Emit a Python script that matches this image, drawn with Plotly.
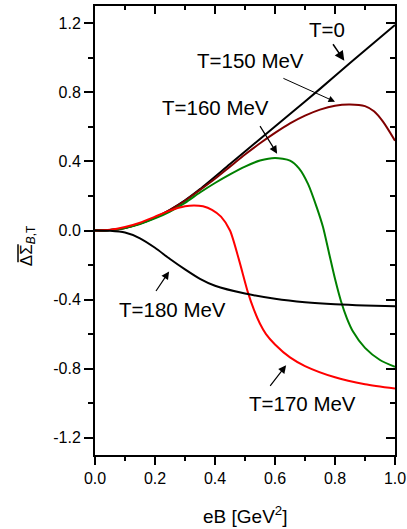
import plotly.graph_objects as go

# ---- data ----
x_t0 = [0, 0.05, 0.1, 0.15, 0.2, 0.25, 0.3, 0.35, 0.45, 0.55, 0.65, 0.75, 0.85, 1.0]
y_t0 = [0, 0.003, 0.015, 0.04, 0.075, 0.12, 0.175, 0.24, 0.385, 0.53, 0.675, 0.82, 0.97, 1.19]

x_t150 = [0, 0.05, 0.1, 0.15, 0.2, 0.25, 0.3, 0.35, 0.4, 0.45, 0.5, 0.55, 0.6, 0.65, 0.7, 0.75, 0.8, 0.85, 0.9, 0.93, 0.96, 1.0]
y_t150 = [0, 0.003, 0.015, 0.04, 0.075, 0.12, 0.172, 0.235, 0.3, 0.37, 0.44, 0.505, 0.565, 0.62, 0.665, 0.7, 0.723, 0.73, 0.72, 0.69, 0.63, 0.52]

x_t160 = [0, 0.05, 0.1, 0.15, 0.2, 0.25, 0.3, 0.35, 0.4, 0.45, 0.5, 0.55, 0.6, 0.65, 0.68, 0.71, 0.74, 0.76, 0.78, 0.8, 0.82, 0.84, 0.86, 0.9, 0.95, 1.0]
y_t160 = [0, 0.003, 0.015, 0.038, 0.07, 0.11, 0.16, 0.22, 0.275, 0.325, 0.37, 0.405, 0.42, 0.405, 0.36, 0.27, 0.13, 0.02, -0.13, -0.28, -0.41, -0.51, -0.585, -0.68, -0.75, -0.79]

x_t170 = [0, 0.05, 0.1, 0.15, 0.2, 0.25, 0.3, 0.33, 0.36, 0.39, 0.42, 0.45, 0.48, 0.51, 0.53, 0.55, 0.57, 0.6, 0.65, 0.7, 0.8, 0.9, 1.0]
y_t170 = [0, 0.004, 0.02, 0.045, 0.08, 0.115, 0.14, 0.145, 0.14, 0.12, 0.08, 0.0, -0.17, -0.36, -0.46, -0.54, -0.6, -0.66, -0.735, -0.785, -0.85, -0.89, -0.915]

x_t180 = [0, 0.05, 0.1, 0.15, 0.2, 0.25, 0.3, 0.35, 0.4, 0.5, 0.6, 0.7, 0.8, 0.9, 1.0]
y_t180 = [0, -0.002, -0.012, -0.045, -0.1, -0.165, -0.225, -0.28, -0.32, -0.365, -0.395, -0.415, -0.427, -0.434, -0.438]

x_tickvals = [0.0, 0.2, 0.4, 0.6, 0.8, 1.0]
x_ticktext = ["0.0", "0.2", "0.4", "0.6", "0.8", "1.0"]
y_tickvals = [-1.2, -0.8, -0.4, 0.0, 0.4, 0.8, 1.2]
y_ticktext = ["-1.2", "-0.8", "-0.4", "0.0", "0.4", "0.8", "1.2"]

series = [
    (x_t0, y_t0, "#000000"),
    (x_t150, y_t150, "#800000"),
    (x_t160, y_t160, "#008000"),
    (x_t170, y_t170, "#ff0000"),
    (x_t180, y_t180, "#000000"),
]

FONT = "Liberation Sans, Arial, sans-serif"

fig = go.Figure()
for xs, ys, c in series:
    fig.add_trace(go.Scatter(x=xs, y=ys, mode="lines",
                             line=dict(color=c, width=2, shape="spline", smoothing=0.7),
                             showlegend=False, hoverinfo="skip"))
fig.add_trace(go.Scatter(x=[None], y=[None], xaxis="x2", yaxis="y2", showlegend=False))

common = dict(showgrid=False, zeroline=False, tickcolor="black", tickwidth=1.5, automargin=False)

fig.update_layout(
    width=407, height=529, autosize=False,
    margin=dict(l=95, r=12, t=6, b=74, pad=0, autoexpand=False),
    paper_bgcolor="white", plot_bgcolor="white",
    showlegend=False,
    font=dict(family=FONT, color="black", size=16),
    xaxis=dict(range=[0, 1], tickvals=x_tickvals, ticktext=x_ticktext, ticks="outside", ticklen=8,
               showline=True, linewidth=2, linecolor="black", mirror=True,
               tickfont=dict(size=16),
               minor=dict(dtick=0.1, tick0=0, ticks="outside", ticklen=4, tickcolor="black", tickwidth=1.5),
               **common),
    yaxis=dict(range=[-1.3, 1.3], tickvals=y_tickvals, ticktext=y_ticktext, ticks="outside", ticklen=9,
               showline=True, linewidth=2, linecolor="black", mirror=True,
               tickfont=dict(size=16),
               minor=dict(dtick=0.2, tick0=0, ticks="outside", ticklen=5, tickcolor="black", tickwidth=1.5),
               **common),
    xaxis2=dict(range=[0, 1], overlaying="x", side="top", anchor="y", tickvals=x_tickvals,
                ticks="inside", ticklen=8, showticklabels=False, showline=False,
                minor=dict(dtick=0.1, tick0=0, ticks="inside", ticklen=4, tickcolor="black", tickwidth=1.5),
                **common),
    yaxis2=dict(range=[-1.3, 1.3], overlaying="y", side="right", anchor="x", tickvals=y_tickvals,
                ticks="inside", ticklen=9, showticklabels=False, showline=False,
                minor=dict(dtick=0.2, tick0=0, ticks="inside", ticklen=5, tickcolor="black", tickwidth=1.5),
                **common),
)

# curve labels
labels = [
    ("T=0", 0.773, 1.163),
    ("T=150 MeV", 0.517, 0.983),
    ("T=160 MeV", 0.40, 0.714),
    ("T=180 MeV", 0.258, -0.46),
    ("T=170 MeV", 0.693, -1.003),
]
for t, x, y in labels:
    fig.add_annotation(x=x, y=y, text=t, showarrow=False, font=dict(size=20.5),
                       xanchor="center", yanchor="middle")

arrows = [
    (0.790, 1.087, 0.831, 0.983, 1.5),
    (0.623, 0.885, 0.800, 0.746, 1.0),
    (0.547, 0.613, 0.607, 0.445, 1.2),
    (0.200, -0.359, 0.247, -0.237, 1.2),
    (0.580, -0.908, 0.637, -0.781, 1.2),
]
for ax_, ay_, hx, hy, w in arrows:
    fig.add_annotation(x=hx, y=hy, ax=ax_, ay=ay_, axref="x", ayref="y", xref="x", yref="y",
                       text="", showarrow=True, arrowhead=2, arrowsize=1.3, arrowwidth=w,
                       arrowcolor="black", standoff=0, startstandoff=0)

# axis titles
fig.add_annotation(xref="paper", yref="paper", x=0.5, y=(455 - 515) / 449.3,
                   text="eB [GeV<sup>2</sup>]", showarrow=False, font=dict(size=19),
                   xanchor="center", yanchor="middle")
fig.add_annotation(xref="paper", yref="paper", x=(28 - 95) / 300, y=(455 - 246) / 449.3,
                   text="ΔΣ<sub><i>B</i>,T</sub>", textangle=-90, showarrow=False, font=dict(size=17),
                   xanchor="center", yanchor="middle")
fig.add_shape(type="line", xref="paper", yref="paper",
              x0=(18 - 95) / 300, x1=(18 - 95) / 300,
              y0=(455 - 244) / 449.3, y1=(455 - 262) / 449.3,
              line=dict(color="black", width=1.5))

post = ("document.body.style.margin='0px';document.body.style.padding='0px';"
        "document.documentElement.style.overflow='hidden';document.body.style.overflow='hidden';"
        "var gd=document.getElementById('{plot_id}');"
        "Plotly.relayout(gd,{width:407,height:529});")

fig.write_html("out.html", post_script=post,
               config={"displayModeBar": False, "responsive": False})
